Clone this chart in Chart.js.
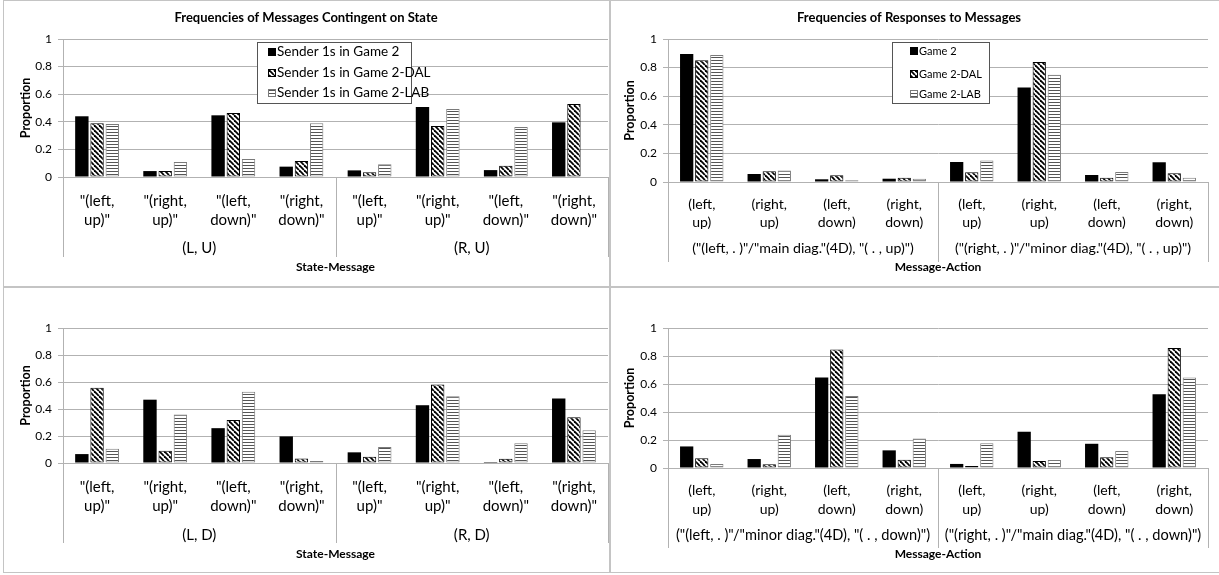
<!DOCTYPE html>
<html>
<head>
<meta charset="utf-8">
<script src="https://cdn.jsdelivr.net/npm/chart.js@4.4.1/dist/chart.umd.min.js"></script>
<style>
  body { margin: 0; background: #fff; }
  #wrap { position: relative; width: 1219px; height: 575px; overflow: hidden; }
  canvas { position: absolute; }
  .line { position: absolute; background: #c4c4c4; }
</style>
</head>
<body>
<div id="wrap">
  <canvas id="cTL" width="606" height="286" style="left:4px;top:0px"></canvas>
  <canvas id="cTR" width="609" height="286" style="left:610px;top:0px"></canvas>
  <canvas id="cBL" width="606" height="289" style="left:4px;top:286px"></canvas>
  <canvas id="cBR" width="609" height="289" style="left:610px;top:286px"></canvas>
  <div class="line" style="left:3px;top:0;width:1216px;height:1px"></div>
  <div class="line" style="left:3px;top:0;width:1px;height:573px"></div>
  <div class="line" style="left:3px;top:572px;width:1216px;height:1px"></div>
  <div class="line" style="left:609px;top:0;width:2px;height:573px"></div>
  <div class="line" style="left:3px;top:286px;width:1216px;height:2px"></div>
</div>
<script>
// category labels
const stateMsgLabels = [
  ['"(left,', 'up)"'], ['"(right,', 'up)"'], ['"(left,', 'down)"'], ['"(right,', 'down)"'],
  ['"(left,', 'up)"'], ['"(right,', 'up)"'], ['"(left,', 'down)"'], ['"(right,', 'down)"']
];
const actionLabels = [
  ['(left,', 'up)'], ['(right,', 'up)'], ['(left,', 'down)'], ['(right,', 'down)'],
  ['(left,', 'up)'], ['(right,', 'up)'], ['(left,', 'down)'], ['(right,', 'down)']
];
const groupsLU = ['(L, U)', '(R, U)'];
const groupsLD = ['(L, D)', '(R, D)'];
const groupsUp = ['("(left, . )"/"main diag."(4D), "( . , up)")', '("(right, . )"/"minor diag."(4D), "( . , up)")'];
const groupsDown = ['("(left, . )"/"minor diag."(4D), "( . , down)")', '("(right, . )"/"main diag."(4D), "( . , down)")'];

const senderSeries = ['Sender 1s in Game 2', 'Sender 1s in Game 2-DAL', 'Sender 1s in Game 2-LAB'];
const responseSeries = ['Game 2', 'Game 2-DAL', 'Game 2-LAB'];

// top left: messages, state U
const msgU_game2 = [0.44, 0.043, 0.447, 0.075, 0.048, 0.507, 0.05, 0.396];
const msgU_dal   = [0.39, 0.043, 0.464, 0.116, 0.034, 0.37, 0.082, 0.529];
const msgU_lab   = [0.384, 0.109, 0.13, 0.39, 0.092, 0.493, 0.362, null];
// top right: responses, ". , up"
const respUp_game2 = [0.895, 0.056, 0.019, 0.023, 0.14, 0.66, 0.049, 0.138];
const respUp_dal   = [0.852, 0.075, 0.047, 0.03, 0.068, 0.84, 0.03, 0.061];
const respUp_lab   = [0.888, 0.08, 0.012, 0.023, 0.15, 0.75, 0.07, 0.03];
// bottom left: messages, state D
const msgD_game2 = [0.066, 0.469, 0.258, 0.197, 0.079, 0.428, 0.007, 0.477];
const msgD_dal   = [0.558, 0.091, 0.319, 0.034, 0.047, 0.582, 0.032, 0.339];
const msgD_lab   = [0.106, 0.359, 0.528, 0.015, 0.118, 0.494, 0.147, 0.243];
// bottom right: responses, ". , down"
const respDown_game2 = [0.154, 0.064, 0.646, 0.126, 0.029, 0.259, 0.173, 0.527];
const respDown_dal   = [0.069, 0.026, 0.846, 0.059, 0.014, 0.05, 0.076, 0.857];
const respDown_lab   = [0.029, 0.238, 0.515, 0.211, 0.176, 0.057, 0.121, 0.646];

const FONT = 'Lato, "Open Sans", sans-serif';
const GRID = '#b2b2b2';

function makePattern(kind) {
  const t = document.createElement('canvas');
  const c = t.getContext('2d');
  if (kind === 'diag') {
    const s = 5;
    t.width = s; t.height = s;
    c.fillStyle = '#fff';
    c.fillRect(0, 0, s, s);
    c.strokeStyle = '#000';
    c.lineWidth = 1.8;
    for (const o of [-s, 0, s]) {
      c.beginPath();
      c.moveTo(o, 0);
      c.lineTo(o + s, s);
      c.stroke();
    }
  } else {
    t.width = 4; t.height = 3;
    c.fillStyle = '#fff';
    c.fillRect(0, 0, 4, 3);
    c.fillStyle = '#555';
    c.fillRect(0, 0, 4, 1);
  }
  return c.createPattern(t, 'repeat');
}
const diagFill = makePattern('diag');
const stripeFill = makePattern('stripe');

const groupPlugin = {
  id: 'groups',
  afterDraw(chart, args, opts) {
    const x = chart.scales.x;
    const ctx = chart.ctx;
    const bottom = chart.chartArea.bottom;
    const n = chart.data.labels.length;
    const per = n / opts.labels.length;
    const pitch = x.getPixelForValue(1) - x.getPixelForValue(0);
    ctx.save();
    ctx.strokeStyle = GRID;
    ctx.lineWidth = 1;
    for (let i = 0; i <= n; i += per) {
      const px = Math.round(x.getPixelForValue(0) - pitch / 2 + i * pitch) + 0.5;
      ctx.beginPath();
      ctx.moveTo(px, bottom);
      ctx.lineTo(px, bottom + opts.lineLen);
      ctx.stroke();
    }
    ctx.fillStyle = '#000';
    ctx.font = `${opts.size}px ${FONT}`;
    ctx.textAlign = 'center';
    ctx.textBaseline = 'middle';
    opts.labels.forEach((lab, g) => {
      const cx = x.getPixelForValue(0) - pitch / 2 + (g + 0.5) * per * pitch;
      ctx.fillText(lab, cx, bottom + opts.offset);
    });
    ctx.restore();
  }
};

const boxLegend = {
  id: 'boxLegend',
  afterDraw(chart, args, opts) {
    if (!opts.box) return;
    const ctx = chart.ctx;
    const [bx, by, bw, bh] = opts.box;
    ctx.save();
    ctx.fillStyle = '#fff';
    ctx.fillRect(bx, by, bw, bh);
    ctx.strokeStyle = '#555';
    ctx.lineWidth = 1;
    ctx.strokeRect(bx + 0.5, by + 0.5, bw, bh);
    ctx.font = `${opts.size}px ${FONT}`;
    ctx.textBaseline = 'middle';
    chart.data.datasets.forEach((ds, i) => {
      const y = opts.rows[i];
      const sx = opts.symX;
      ctx.fillStyle = ds.backgroundColor;
      ctx.fillRect(sx, y - 4, 8, 8);
      if (ds.borderWidth) {
        ctx.strokeStyle = ds.borderColor;
        ctx.strokeRect(sx + 0.5, y - 3.5, 7, 7);
      }
      ctx.fillStyle = '#000';
      ctx.fillText(ds.label, sx + 9, y);
    });
    ctx.restore();
  }
};

function makeChart(id, p) {
  const datasets = [
    { label: p.series[0], data: p.values[0], backgroundColor: '#000', borderWidth: 0 },
    { label: p.series[1], data: p.values[1], backgroundColor: diagFill, borderColor: '#000', borderWidth: 1 },
    { label: p.series[2], data: p.values[2], backgroundColor: stripeFill, borderColor: '#7a7a7a', borderWidth: 1 }
  ];
  datasets.forEach((d) => {
    d.categoryPercentage = 0.67;
    d.barPercentage = 0.88;
    d.borderSkipped = false;
  });
  const canvas = document.getElementById(id);
  return new Chart(canvas, {
    type: 'bar',
    data: { labels: p.labels, datasets },
    plugins: [groupPlugin, boxLegend],
    options: {
      responsive: false,
      animation: false,
      events: [],
      layout: { padding: { top: p.title ? 0 : p.top, right: p.right, bottom: 0, left: 0 } },
      plugins: {
        legend: { display: false },
        tooltip: { enabled: false },
        title: {
          display: !!p.title,
          text: p.title,
          color: '#000',
          font: { family: FONT, size: 13, weight: 'bold', lineHeight: 1.2 },
          padding: { top: 10.2, bottom: p.top - 25.8 }
        },
        groups: { labels: p.groups, offset: p.groupOffset, lineLen: 80, size: p.groupSize },
        boxLegend: p.legend || {}
      },
      scales: {
        x: {
          grid: { display: false },
          border: { display: true, color: GRID },
          ticks: {
            color: '#000',
            autoSkip: false,
            maxRotation: 0,
            padding: p.tickPad,
            font: { family: FONT, size: p.tickSize, lineHeight: p.tickLine }
          },
          title: {
            display: true,
            text: p.xTitle,
            color: '#000',
            font: { family: FONT, size: 12, weight: 'bold' },
            padding: { top: 0, bottom: p.xTitlePad }
          },
          afterFit: (s) => { s.height = p.xHeight; }
        },
        y: {
          min: 0,
          max: 1,
          ticks: {
            stepSize: 0.2,
            color: '#000',
            padding: 6,
            font: { family: FONT, size: 12 },
            callback: (v) => String(Number(v.toFixed(1)))
          },
          grid: { color: GRID, tickLength: 5 },
          border: { color: GRID },
          title: {
            display: true,
            text: 'Proportion',
            color: '#000',
            font: { family: FONT, size: 12.5, weight: 'bold' },
            padding: { top: p.yTitlePad, bottom: 0 }
          },
          afterFit: (s) => { s.width = p.yWidth; }
        }
      }
    }
  });
}

makeChart('cTL', {
  labels: stateMsgLabels, groups: groupsLU, series: senderSeries,
  values: [msgU_game2, msgU_dal, msgU_lab],
  title: 'Frequencies of Messages Contingent on State', xTitle: 'State-Message',
  top: 39, right: 2, yWidth: 59, xHeight: 109, tickPad: 6, tickSize: 15, tickLine: 1.3,
  xTitlePad: 11.8, groupOffset: 71, groupSize: 15, yTitlePad: 14,
  legend: { box: [253, 42, 154, 61], rows: [52, 73, 93], symX: 264, size: 13.5 }
});
makeChart('cTR', {
  labels: actionLabels, groups: groupsUp, series: responseSeries,
  values: [respUp_game2, respUp_dal, respUp_lab],
  title: 'Frequencies of Responses to Messages', xTitle: 'Message-Action',
  top: 39, right: 11, yWidth: 58, xHeight: 104, tickPad: 5, tickSize: 14, tickLine: 1.3,
  xTitlePad: 11.8, groupOffset: 66, groupSize: 14.2, yTitlePad: 12.8,
  legend: { box: [282, 42, 97, 61], rows: [51, 74, 94], symX: 300, size: 11 }
});
makeChart('cBL', {
  labels: stateMsgLabels, groups: groupsLD, series: senderSeries,
  values: [msgD_game2, msgD_dal, msgD_lab],
  xTitle: 'State-Message',
  top: 42, right: 2, yWidth: 59, xHeight: 112, tickPad: 7, tickSize: 15, tickLine: 1.25,
  xTitlePad: 13.8, groupOffset: 72, groupSize: 15, yTitlePad: 14
});
makeChart('cBR', {
  labels: actionLabels, groups: groupsDown, series: responseSeries,
  values: [respDown_game2, respDown_dal, respDown_lab],
  xTitle: 'Message-Action',
  top: 42, right: 11, yWidth: 58, xHeight: 107, tickPad: 5, tickSize: 14, tickLine: 1.35,
  xTitlePad: 13.8, groupOffset: 67, groupSize: 14.6, yTitlePad: 12.8
});
</script>
</body>
</html>
